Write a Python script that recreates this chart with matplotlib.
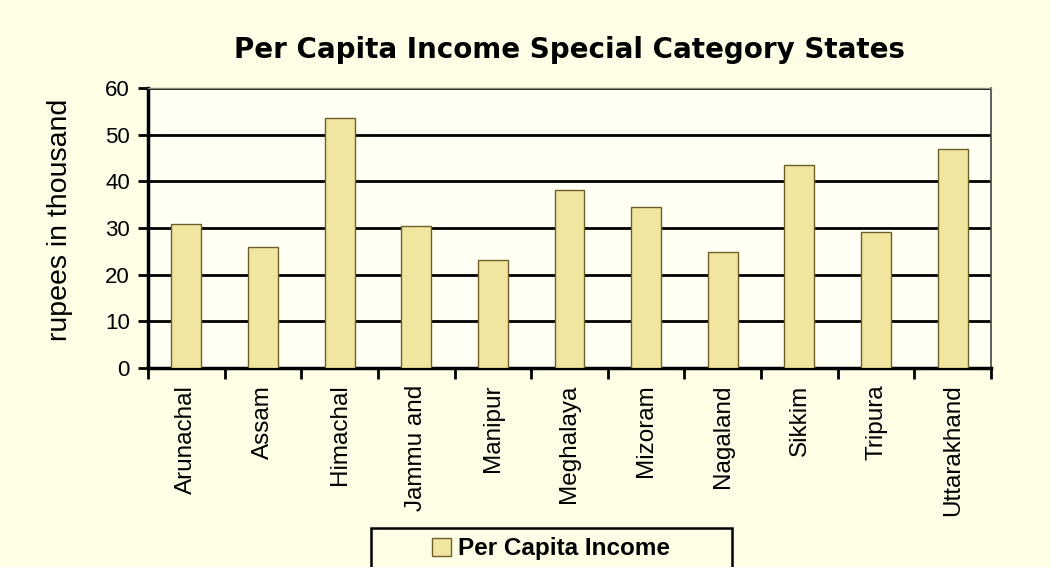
import numpy as np
import matplotlib.pyplot as plt
from matplotlib.patches import Rectangle

# values (rupees in thousand)
states = ['Arunachal', 'Assam', 'Himachal', 'Jammu and', 'Manipur', 'Meghalaya',
          'Mizoram', 'Nagaland', 'Sikkim', 'Tripura', 'Uttarakhand']
income = [30.9, 26.0, 53.5, 30.5, 23.2, 38.2, 34.4, 24.9, 43.4, 29.2, 47.0]
yticks = [0, 10, 20, 30, 40, 50, 60]

BG = '#fefde6'
PLOT_BG = '#fffff3'
BAR = '#f1e6a0'
EDGE = '#6e5f2a'

plt.rcParams['font.family'] = ['Liberation Sans', 'DejaVu Sans']

fig = plt.figure(figsize=(10.51, 5.67), dpi=100, facecolor=BG)
ax = fig.add_axes([148/1051, 1-368/567, (991-148)/1051, (368-88)/567])
ax.set_facecolor(PLOT_BG)

x = np.arange(len(states))
bars = ax.bar(x, income, width=0.39, color=BAR, edgecolor=EDGE, linewidth=1.0,
              zorder=3, label='Per Capita Income')

ax.set_xlim(-0.5, len(states) - 0.5)
ax.set_ylim(0, 60)
ax.set_yticks(yticks)
ax.set_yticklabels([str(v) for v in yticks], fontsize=16)
ax.yaxis.grid(True, color='black', linewidth=2.0, zorder=1)
ax.set_axisbelow(True)

# category labels at centres, tick marks at boundaries (Excel style)
ax.set_xticks(x)
ax.set_xticklabels(states, rotation=90, fontsize=17.5)
ax.tick_params(axis='x', length=0, pad=12)
ax.set_xticks(np.arange(len(states) + 1) - 0.5, minor=True)
ax.tick_params(axis='x', which='minor', length=8, width=2, color='black', direction='out')
ax.tick_params(axis='y', length=7, width=2, color='black', pad=6)

ax.spines['left'].set_linewidth(2.5)
ax.spines['bottom'].set_linewidth(2.5)
ax.spines['top'].set_color('#8a8a7a')
ax.spines['top'].set_linewidth(1.0)
ax.spines['right'].set_color('#444444')
ax.spines['right'].set_linewidth(1.2)

ax.set_ylabel('rupees in thousand', fontsize=20.5)
ax.yaxis.set_label_coords(-0.089, 0.53)

fig.text(0.542, 1-50/567, 'Per Capita Income Special Category States',
         ha='center', va='center', fontsize=20, fontweight='bold',
         family=['DejaVu Sans'])

leg = fig.legend(handles=[bars], labels=['Per Capita Income'],
                 loc='center', bbox_to_anchor=(551/1051, 1-549/567),
                 frameon=False, prop={'weight': 'bold', 'size': 17.5},
                 handlelength=0.8, handleheight=0.8, handletextpad=0.3)
fig.patches.append(Rectangle((371/1051, -0.02), 361/1051, (567-528)/567 + 0.02,
                             transform=fig.transFigure, fill=False,
                             edgecolor='black', linewidth=1.8))

fig.savefig('out.png', dpi=100, facecolor=BG)
